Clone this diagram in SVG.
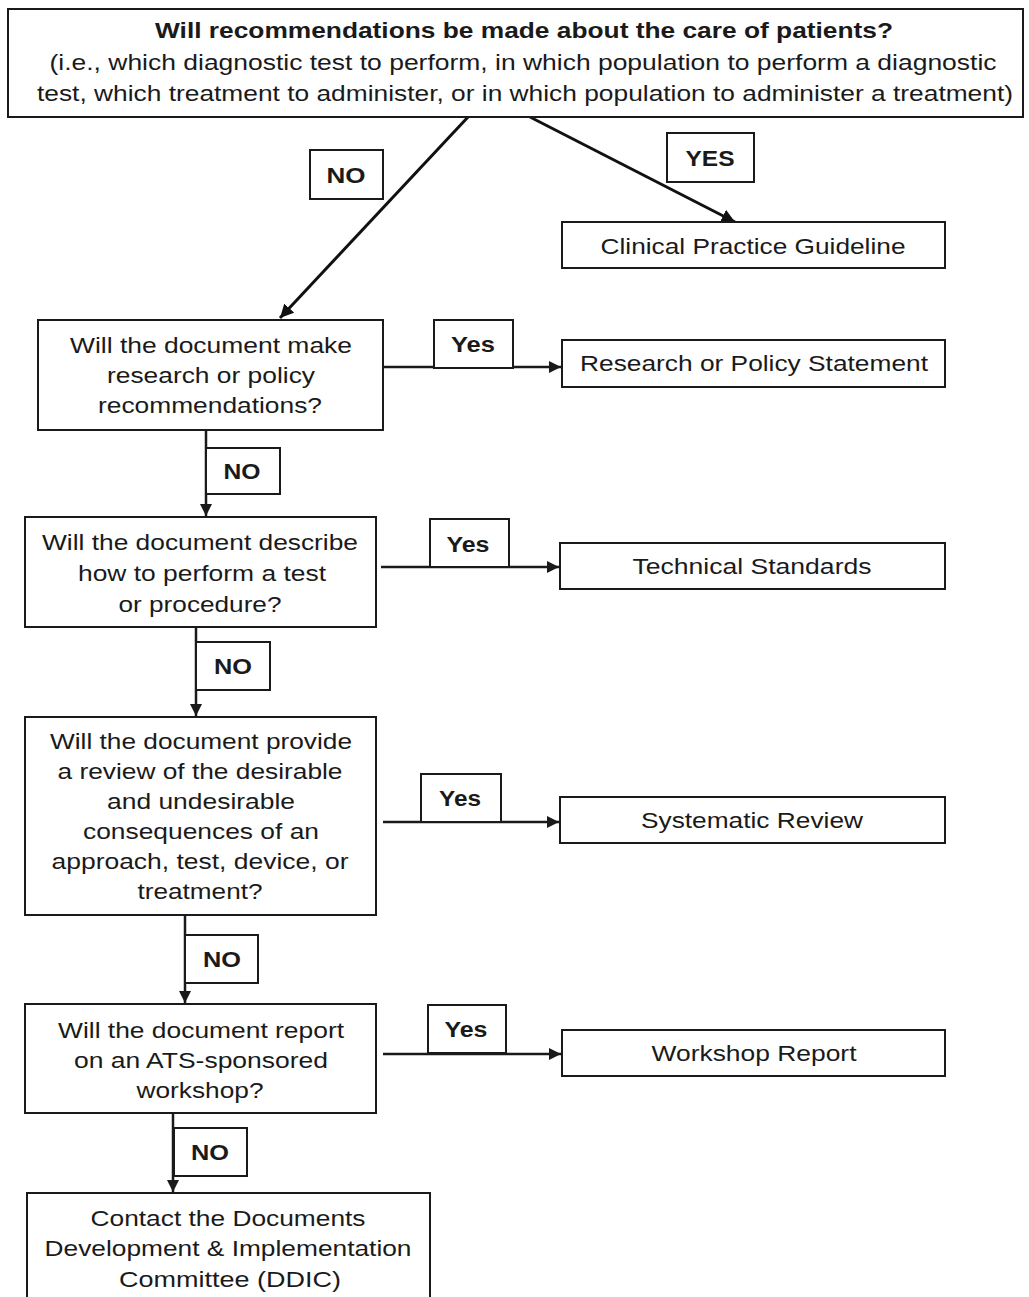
<svg xmlns="http://www.w3.org/2000/svg" width="1029" height="1297" viewBox="0 0 1029 1297">
<style>
.box{fill:#fff;stroke:#1a1a1a;stroke-width:2}
.lbl{fill:#fff;stroke:#1a1a1a;stroke-width:2}
.t{font-family:"Liberation Sans",Arial,sans-serif;font-size:22px;fill:#1a1a1a}
.b{font-weight:bold}
.c{fill:none;stroke:#1a1a1a;stroke-width:2.5}
.d{fill:none;stroke:#111;stroke-width:3}
</style>
<defs>
<marker id="ah" viewBox="0 0 10 10" refX="10" refY="5" markerWidth="5" markerHeight="5" orient="auto" markerUnits="strokeWidth">
<path d="M0,0 L10,5 L0,10 z" fill="#1a1a1a"/>
</marker>
<marker id="ah2" viewBox="0 0 10 10" refX="10" refY="5" markerWidth="4.5" markerHeight="4.5" orient="auto" markerUnits="strokeWidth">
<path d="M0,0 L10,5 L0,10 z" fill="#111"/>
</marker>
</defs>
<rect width="1029" height="1297" fill="#fff"/>
<g id="connectors">
<line class="d" x1="468" y1="117" x2="280" y2="318" marker-end="url(#ah2)"/>
<line class="d" x1="530" y1="117" x2="735" y2="222" marker-end="url(#ah2)"/>
<line class="c" x1="383" y1="367" x2="561" y2="367" marker-end="url(#ah)"/>
<line class="c" x1="206" y1="430" x2="206" y2="516" marker-end="url(#ah)"/>
<line class="c" x1="381" y1="567" x2="559" y2="567" marker-end="url(#ah)"/>
<line class="c" x1="196" y1="627" x2="196" y2="716" marker-end="url(#ah)"/>
<line class="c" x1="383" y1="822" x2="559" y2="822" marker-end="url(#ah)"/>
<line class="c" x1="185" y1="915" x2="185" y2="1003" marker-end="url(#ah)"/>
<line class="c" x1="383" y1="1054" x2="561" y2="1054" marker-end="url(#ah)"/>
<line class="c" x1="173" y1="1113" x2="173" y2="1192" marker-end="url(#ah)"/>
</g>
<g id="q0">
<rect class="box" x="8" y="9" width="1015" height="108"/>
<text class="t b" x="524" y="38" text-anchor="middle" textLength="738" lengthAdjust="spacingAndGlyphs">Will recommendations be made about the care of patients?</text>
<text class="t" x="523" y="70" text-anchor="middle" textLength="947" lengthAdjust="spacingAndGlyphs">(i.e., which diagnostic test to perform, in which population to perform a diagnostic</text>
<text class="t" x="525" y="101" text-anchor="middle" textLength="976" lengthAdjust="spacingAndGlyphs">test, which treatment to administer, or in which population to administer a treatment)</text>
</g>
<g id="lbl-no1">
<rect class="lbl" x="310" y="150" width="73" height="49"/>
<text class="t b" x="346" y="183" text-anchor="middle" textLength="39" lengthAdjust="spacingAndGlyphs">NO</text>
</g>
<g id="lbl-yes1">
<rect class="lbl" x="667" y="133" width="87" height="49"/>
<text class="t b" x="710" y="166" text-anchor="middle" textLength="49" lengthAdjust="spacingAndGlyphs">YES</text>
</g>
<g id="cpg">
<rect class="box" x="562" y="222" width="383" height="46"/>
<text class="t" x="753" y="254" text-anchor="middle" textLength="305" lengthAdjust="spacingAndGlyphs">Clinical Practice Guideline</text>
</g>
<g id="q1">
<rect class="box" x="38" y="320" width="345" height="110"/>
<text class="t" x="211" y="353" text-anchor="middle" textLength="282" lengthAdjust="spacingAndGlyphs">Will the document make</text>
<text class="t" x="211" y="383" text-anchor="middle" textLength="208" lengthAdjust="spacingAndGlyphs">research or policy</text>
<text class="t" x="210" y="413" text-anchor="middle" textLength="224" lengthAdjust="spacingAndGlyphs">recommendations?</text>
</g>
<g id="lbl-yes2">
<rect class="lbl" x="434" y="320" width="79" height="48"/>
<text class="t b" x="473" y="352" text-anchor="middle" textLength="44" lengthAdjust="spacingAndGlyphs">Yes</text>
</g>
<g id="rps">
<rect class="box" x="562" y="340" width="383" height="47"/>
<text class="t" x="754" y="371" text-anchor="middle" textLength="348" lengthAdjust="spacingAndGlyphs">Research or Policy Statement</text>
</g>
<g id="lbl-no2">
<rect class="lbl" x="206" y="448" width="74" height="46"/>
<text class="t b" x="242" y="479" text-anchor="middle" textLength="37" lengthAdjust="spacingAndGlyphs">NO</text>
</g>
<g id="q2">
<rect class="box" x="25" y="517" width="351" height="110"/>
<text class="t" x="200" y="550" text-anchor="middle" textLength="316" lengthAdjust="spacingAndGlyphs">Will the document describe</text>
<text class="t" x="202" y="581" text-anchor="middle" textLength="248" lengthAdjust="spacingAndGlyphs">how to perform a test</text>
<text class="t" x="200" y="612" text-anchor="middle" textLength="163" lengthAdjust="spacingAndGlyphs">or procedure?</text>
</g>
<g id="lbl-yes3">
<rect class="lbl" x="430" y="519" width="79" height="48"/>
<text class="t b" x="468" y="552" text-anchor="middle" textLength="43" lengthAdjust="spacingAndGlyphs">Yes</text>
</g>
<g id="ts">
<rect class="box" x="560" y="543" width="385" height="46"/>
<text class="t" x="752" y="574" text-anchor="middle" textLength="239" lengthAdjust="spacingAndGlyphs">Technical Standards</text>
</g>
<g id="lbl-no3">
<rect class="lbl" x="196" y="642" width="74" height="48"/>
<text class="t b" x="233" y="674" text-anchor="middle" textLength="38" lengthAdjust="spacingAndGlyphs">NO</text>
</g>
<g id="q3">
<rect class="box" x="25" y="717" width="351" height="198"/>
<text class="t" x="201" y="749" text-anchor="middle" textLength="302" lengthAdjust="spacingAndGlyphs">Will the document provide</text>
<text class="t" x="200" y="779" text-anchor="middle" textLength="285" lengthAdjust="spacingAndGlyphs">a review of the desirable</text>
<text class="t" x="201" y="809" text-anchor="middle" textLength="188" lengthAdjust="spacingAndGlyphs">and undesirable</text>
<text class="t" x="201" y="839" text-anchor="middle" textLength="236" lengthAdjust="spacingAndGlyphs">consequences of an</text>
<text class="t" x="200" y="869" text-anchor="middle" textLength="297" lengthAdjust="spacingAndGlyphs">approach, test, device, or</text>
<text class="t" x="200" y="899" text-anchor="middle" textLength="125" lengthAdjust="spacingAndGlyphs">treatment?</text>
</g>
<g id="lbl-yes4">
<rect class="lbl" x="421" y="774" width="80" height="48"/>
<text class="t b" x="460" y="806" text-anchor="middle" textLength="42" lengthAdjust="spacingAndGlyphs">Yes</text>
</g>
<g id="sr">
<rect class="box" x="560" y="797" width="385" height="46"/>
<text class="t" x="752" y="828" text-anchor="middle" textLength="222" lengthAdjust="spacingAndGlyphs">Systematic Review</text>
</g>
<g id="lbl-no4">
<rect class="lbl" x="185" y="935" width="73" height="48"/>
<text class="t b" x="222" y="967" text-anchor="middle" textLength="38" lengthAdjust="spacingAndGlyphs">NO</text>
</g>
<g id="q4">
<rect class="box" x="25" y="1004" width="351" height="109"/>
<text class="t" x="201" y="1038" text-anchor="middle" textLength="286" lengthAdjust="spacingAndGlyphs">Will the document report</text>
<text class="t" x="201" y="1068" text-anchor="middle" textLength="254" lengthAdjust="spacingAndGlyphs">on an ATS-sponsored</text>
<text class="t" x="200" y="1098" text-anchor="middle" textLength="127" lengthAdjust="spacingAndGlyphs">workshop?</text>
</g>
<g id="lbl-yes5">
<rect class="lbl" x="428" y="1005" width="78" height="48"/>
<text class="t b" x="466" y="1037" text-anchor="middle" textLength="43" lengthAdjust="spacingAndGlyphs">Yes</text>
</g>
<g id="wr">
<rect class="box" x="562" y="1030" width="383" height="46"/>
<text class="t" x="754" y="1061" text-anchor="middle" textLength="205" lengthAdjust="spacingAndGlyphs">Workshop Report</text>
</g>
<g id="lbl-no5">
<rect class="lbl" x="174" y="1128" width="73" height="48"/>
<text class="t b" x="210" y="1160" text-anchor="middle" textLength="38" lengthAdjust="spacingAndGlyphs">NO</text>
</g>
<g id="ddic">
<rect class="box" x="27" y="1193" width="403" height="120"/>
<text class="t" x="228" y="1226" text-anchor="middle" textLength="275" lengthAdjust="spacingAndGlyphs">Contact the Documents</text>
<text class="t" x="228" y="1256" text-anchor="middle" textLength="367" lengthAdjust="spacingAndGlyphs">Development &amp; Implementation</text>
<text class="t" x="230" y="1287" text-anchor="middle" textLength="222" lengthAdjust="spacingAndGlyphs">Committee (DDIC)</text>
</g>
</svg>
